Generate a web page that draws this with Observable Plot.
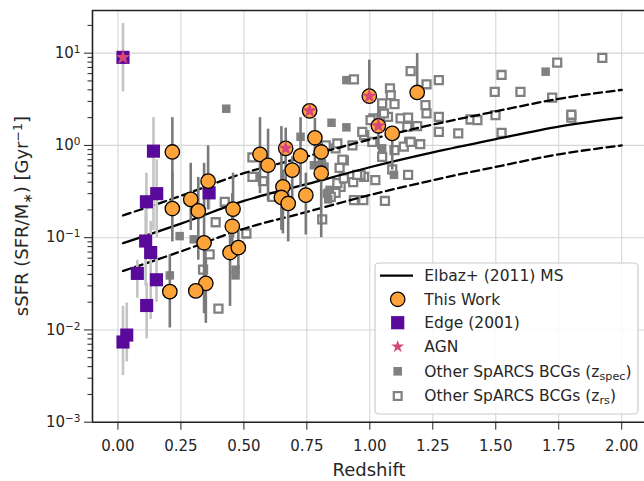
<!DOCTYPE html>
<html><head><meta charset="utf-8">
<script src="https://cdn.jsdelivr.net/npm/d3@7"></script>
<script src="https://cdn.jsdelivr.net/npm/@observablehq/plot@0.6"></script>
<style>
html,body{margin:0;padding:0;background:#fff;overflow:hidden}
#chart{width:644px;height:481px}
</style></head><body><div id="chart"></div>
<script>
// ---------- data ----------
const xTicks = [0, 0.25, 0.5, 0.75, 1, 1.25, 1.5, 1.75, 2];
const yDecades = [1e-3, 1e-2, 1e-1, 1, 10];

// Elbaz+ (2011) main sequence
const msZ     = [0.02, 0.25, 0.5, 0.75, 1.0, 1.25, 1.5, 1.75, 2.0];
const msMain  = [0.087, 0.142, 0.25, 0.38, 0.58, 0.84, 1.17, 1.6, 2.0];
const msUpper = [0.174, 0.284, 0.5, 0.76, 1.16, 1.68, 2.34, 3.2, 4.0];
const msLower = [0.0435, 0.071, 0.125, 0.19, 0.29, 0.42, 0.585, 0.8, 1.0];

// This Work
const twZ    = [0.216,0.216,0.206,0.289,0.319,0.358,0.342,0.349,0.309,0.457,0.454,0.445,0.478,0.564,0.596,0.655,0.649,0.676,0.692,0.725,0.746,0.782,0.807,0.807,1.089,1.188,0.666,0.761,0.998,1.034];
const twSSFR = [0.85,0.207,0.026,0.26,0.195,0.41,0.088,0.032,0.0265,0.204,0.133,0.069,0.078,0.80,0.61,0.356,0.273,0.235,0.54,0.77,0.289,1.21,0.85,0.50,1.35,3.75,0.93,2.37,3.42,1.63];
const twLo   = [0.25,0.09,0.0105,0.12,0.057,0.2,0.015,0.0118,0.0265,0.1,0.07,0.018,0.045,0.3,0.25,0.11,0.12,0.09,0.2,0.35,0.107,0.6,0.4,0.1,0.54,3.75,0.4,2.37,3.3,0.9];
const twHi   = [2.0,0.5,0.065,0.64,0.45,0.99,0.64,0.06,0.0265,0.5,0.3,0.12,0.14,2.0,1.5,0.54,1.6,0.31,0.75,2.0,0.5,1.96,1.1,0.9,1.35,9.9,1.54,2.37,8.4,2.6];

// Edge (2001)
const edgeZ    = [0.02,0.141,0.154,0.113,0.362,0.110,0.130,0.077,0.153,0.114,0.02,0.035];
const edgeSSFR = [9.0,0.867,0.30,0.245,0.306,0.092,0.069,0.041,0.035,0.0184,0.0074,0.0088];
const edgeLo   = [3.8,0.12,0.1,0.1,0.2,0.03,0.013,0.022,0.02,0.008,0.0032,0.0045];
const edgeHi   = [21,2.0,0.7,0.5,0.45,0.2,0.15,0.057,0.06,0.032,0.018,0.0196];

// AGN
const agnZ    = [0.02,0.666,0.761,0.998,1.034];
const agnSSFR = [9.0,0.93,2.37,3.42,1.63];

// Other SpARCS BCGs (z_spec)
const specZ    = [0.43,0.907,1.698,0.848,0.907,0.725,0.206,0.245,0.301,0.467,0.467,1.049,1.096,0.778,0.81,0.84,0.83,0.835,0.82,0.80];
const specSSFR = [2.5,5.1,6.3,1.76,1.57,1.24,0.039,0.104,0.096,0.045,0.039,0.93,0.48,0.61,0.64,0.33,0.30,0.26,0.59,0.55];

// Other SpARCS BCGs (z_rs)
const rsZ    = [0.388,0.364,0.338,0.399,0.51,0.811,0.424,0.534,0.576,0.54,0.613,0.534,
                0.937,1.162,1.225,1.274,1.523,1.496,1.598,1.744,1.923,1.724,1.80,1.80,1.523,1.499,1.40,1.427,1.351,1.274,1.274,1.221,1.225,
                1.08,1.083,1.049,1.098,1.014,1.072,1.122,1.152,1.188,0.977,1.01,1.098,1.156,1.2,0.931,0.897,0.864,0.977,0.934,1.022,1.049,1.089,1.152,
                0.884,0.864,0.974,1.06,0.891,0.97,1.003,1.056,1.135,0.88,0.871,0.963,0.838,0.871,0.825,0.897,0.95,0.845,0.937,1.149,1.162];
const rsSSFR = [0.147,0.066,0.045,0.017,0.111,0.158,0.245,0.74,0.41,0.457,0.277,0.457,
                5.2,6.4,4.6,5.1,5.8,3.8,3.8,7.9,8.9,3.3,2.0,2.15,1.37,2.13,1.91,1.88,1.35,1.40,2.04,2.73,2.22,
                4.15,3.5,2.85,2.8,1.96,2.04,1.96,2.0,1.62,1.29,1.09,0.89,1.09,1.03,1.0,0.69,0.93,0.457,0.40,0.42,0.75,0.55,0.48,
                0.356,0.306,0.255,0.25,0.70,1.4,1.88,2.22,0.97,0.57,0.39,0.48,0.30,1.05,1.0,0.44,0.48,0.277,0.255,1.59,1.09];

// ---------- tables ----------
const ms = msZ.map((z,i)=>({z, main: msMain[i], up: msUpper[i], lo: msLower[i]}));
const tw = twZ.map((z,i)=>({z, v: twSSFR[i], lo: twLo[i], hi: twHi[i]}));
const edge = edgeZ.map((z,i)=>({z, v: edgeSSFR[i], lo: edgeLo[i], hi: edgeHi[i]}));
const agn = agnZ.map((z,i)=>({z, v: agnSSFR[i]}));
const spec = specZ.map((z,i)=>({z, v: specSSFR[i]}));
const rs = rsZ.map((z,i)=>({z, v: rsSSFR[i]}));
const yMinor = [];
for (const d of yDecades) for (let k=2;k<=9;k++) if (d*k < 29) yMinor.push(d*k);

const ORANGE = "#fca43a", PURPLE = "#590a9b", PINK = "#d6487a", GREY = "#808080";
const xDom = [-0.101, 2.0905], yDom = [1e-3, 29];

const svg = Plot.plot({
  width: 644, height: 481,
  marginLeft: 92, marginRight: 0, marginTop: 10, marginBottom: 59.3,
  style: {fontFamily: "DejaVu Sans", fontSize: "15px", color: "#262626", background: "white"},
  x: {domain: xDom, label: null},
  y: {type: "log", domain: yDom, label: null},
  marks: [
    Plot.gridX(xTicks, {stroke: "#d6d6d6", strokeOpacity: 1, strokeWidth: 1.1}),
    Plot.gridY(yDecades, {stroke: "#d6d6d6", strokeOpacity: 1, strokeWidth: 1.1}),
    Plot.dot(rs, {x: "z", y: "v", symbol: "square", r: 4.5, fill: "white", stroke: GREY, strokeWidth: 2.3}),
    Plot.dot(spec, {x: "z", y: "v", symbol: "square", r: 4.8, fill: GREY, stroke: "none"}),
    Plot.line(ms, {x: "z", y: "main", stroke: "black", strokeWidth: 2.3, curve: "monotone-x"}),
    Plot.line(ms, {x: "z", y: "up", stroke: "black", strokeWidth: 2.3, strokeDasharray: "8,4.5", curve: "monotone-x"}),
    Plot.line(ms, {x: "z", y: "lo", stroke: "black", strokeWidth: 2.3, strokeDasharray: "8,4.5", curve: "monotone-x"}),
    Plot.ruleX(edge, {x: "z", y1: "lo", y2: "hi", stroke: "#c4c4c4", strokeWidth: 2.6}),
    Plot.ruleX(tw, {x: "z", y1: "lo", y2: "hi", stroke: "#7a7a7a", strokeWidth: 2.6}),
    Plot.dot(edge, {x: "z", y: "v", symbol: "square", r: 7.4, fill: PURPLE, stroke: "none"}),
    Plot.dot(tw, {x: "z", y: "v", r: 7.2, fill: ORANGE, stroke: "black", strokeWidth: 1.3}),
    Plot.dot(agn, {x: "z", y: "v", symbol: "star", r: 4.8, fill: PINK, stroke: "none"}),
    Plot.ruleX([xDom[0]], {stroke: "#222", strokeWidth: 1.6}),
    Plot.ruleY([yDom[1]], {stroke: "#222", strokeWidth: 1.6}),
    Plot.ruleY([yDom[0]], {stroke: "#222", strokeWidth: 1.6}),
    Plot.axisX(xTicks, {tickSize: 8, tickPadding: 10, stroke: "#222", tickFormat: d => d.toFixed(2)}),
    Plot.axisY(yMinor, {tickSize: 4.5, stroke: "#222", tickFormat: () => ""}),
    Plot.axisY(yDecades, {tickSize: 8, tickPadding: 4, stroke: "#222", tickFormat: d => "10^" + String(Math.round(Math.log10(d))).replace("-", "\u2212")})
  ]
});
document.getElementById("chart").appendChild(svg);

const s = d3.select(svg);
// superscript exponents on y tick labels
s.selectAll('g[aria-label="y-axis tick label"] text').each(function(){
  const t = d3.select(this); const str = t.text();
  if (!str.includes("^")) return;
  const [b, e] = str.split("^");
  t.text(null);
  t.append("tspan").text(b);
  t.append("tspan").attr("dy", "-0.5em").attr("font-size", "0.7em").text(e);
});

// axis titles
const yl = s.append("text").attr("transform", "translate(22,216) rotate(-90)")
  .attr("text-anchor", "middle").attr("font-family", "DejaVu Sans").attr("font-size", 18)
  .attr("fill", "#262626").attr("dy", "0.35em");
yl.append("tspan").text("sSFR (SFR/M");
yl.append("tspan").attr("font-size", "0.7em").attr("dy", "0.3em").text("\u2217");
yl.append("tspan").attr("dy", "-0.21em").text(") [Gyr");
yl.append("tspan").attr("font-size", "0.7em").attr("dy", "-0.5em").text("\u22121");
yl.append("tspan").attr("dy", "0.35em").text("]");

s.append("text").attr("x", 369).attr("y", 476).attr("text-anchor", "middle")
  .attr("font-family", "DejaVu Sans").attr("font-size", 18).attr("fill", "#262626").text("Redshift");

// legend
const lg = s.append("g").attr("font-family", "DejaVu Sans").attr("font-size", 15.5).attr("fill", "#262626").attr("text-anchor", "start");
lg.append("rect").attr("x", 375).attr("y", 263).attr("width", 263).attr("height", 151).attr("rx", 4)
  .attr("fill", "white").attr("fill-opacity", 0.85).attr("stroke", "#cccccc").attr("stroke-width", 1.2);
const rows = [275.7, 299.3, 322.7, 346.7, 371.3, 396];
const mx = 397.7, tx = 424.3;
lg.append("line").attr("x1", 380).attr("x2", 413).attr("y1", rows[0]).attr("y2", rows[0]).attr("stroke", "black").attr("stroke-width", 2.3);
lg.append("circle").attr("cx", mx).attr("cy", rows[1]).attr("r", 7.2).attr("fill", ORANGE).attr("stroke", "black").attr("stroke-width", 1.3);
lg.append("rect").attr("x", mx - 6.6).attr("y", rows[2] - 6.6).attr("width", 13.2).attr("height", 13.2).attr("fill", PURPLE);
lg.append("path").attr("transform", `translate(${mx},${rows[3]})`).attr("d", d3.symbol(d3.symbolStar, 52)()).attr("fill", PINK);
lg.append("rect").attr("x", mx - 4.3).attr("y", rows[4] - 4.3).attr("width", 8.6).attr("height", 8.6).attr("fill", GREY);
lg.append("rect").attr("x", mx - 3.9).attr("y", rows[5] - 3.9).attr("width", 7.8).attr("height", 7.8).attr("fill", "white").attr("stroke", GREY).attr("stroke-width", 2.2);
const labels = ["Elbaz+ (2011) MS", "This Work", "Edge (2001)", "AGN"];
labels.forEach((L, i) => lg.append("text").attr("x", tx).attr("y", rows[i]).attr("dy", "0.35em").attr("text-anchor", "start").text(L));
["spec", "rs"].forEach((sub, j) => {
  const t = lg.append("text").attr("x", tx).attr("y", rows[4 + j]).attr("dy", "0.35em").attr("text-anchor", "start");
  t.append("tspan").text("Other SpARCS BCGs (z");
  t.append("tspan").attr("font-size", "0.72em").attr("dy", "0.25em").text(sub);
  t.append("tspan").attr("dy", "-0.18em").text(")");
});
</script>
</body></html>
